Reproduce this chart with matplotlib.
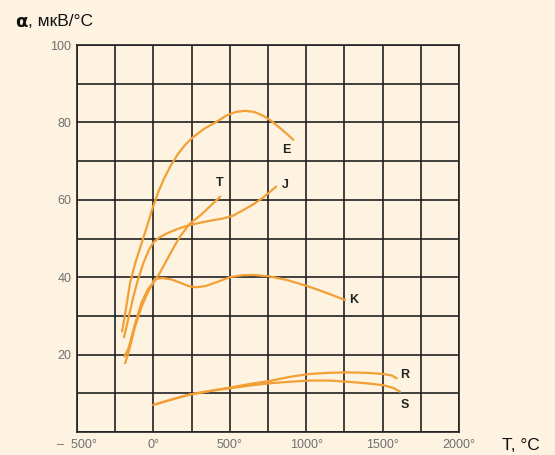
import matplotlib
matplotlib.use("Agg")
import matplotlib.pyplot as plt

# ---- data ----
E_T = [-205, -185, -153, -120, -100, -67, -35, 0, 35, 70, 110, 160, 210, 260, 330, 414, 480, 540, 600, 660, 720, 774, 830, 880, 916]
E_a = [26, 30.5, 38.5, 43.5, 46, 50, 54, 58.5, 62.3, 65.5, 68.6, 71.8, 74.3, 76.2, 78.3, 80.2, 81.8, 82.7, 83, 82.7, 81.7, 80.3, 78.5, 76.8, 75.5]

J_T = [-192, -160, -131, -100, -66, -30, 0, 40, 87, 160, 240, 320, 400, 460, 521, 600, 660, 719, 803]
J_a = [24.5, 30, 35, 39.5, 43.6, 47, 49, 50.3, 51.3, 52.5, 53.5, 54.2, 54.8, 55.2, 55.9, 57.6, 59, 60.6, 63.4]

T_T = [-190, -164, -120, -77, -35, 0, 40, 87, 130, 174, 240, 305, 370, 437]
T_a = [19.5, 21.5, 28, 33.5, 37, 38.5, 41, 44.4, 47.5, 50.5, 53.9, 55.9, 58.3, 60.8]

K_T = [-185, -164, -120, -77, -40, -10, 0, 20, 60, 120, 180, 230, 283, 340, 420, 500, 580, 654, 760, 872, 1000, 1130, 1254]
K_a = [17.8, 20.3, 27.2, 32.4, 35.8, 38, 39, 39.6, 39.8, 39.4, 38.5, 37.7, 37.4, 37.7, 38.8, 40.0, 40.5, 40.6, 40.2, 39.3, 37.8, 36, 34.1]

R_T = [0, 120, 240, 370, 501, 630, 763, 900, 1025, 1150, 1265, 1390, 1505, 1560, 1592]
R_a = [7, 8.4, 9.7, 10.6, 11.5, 12.4, 13.2, 14.3, 15, 15.3, 15.4, 15.3, 15, 14.6, 13.9]

S_T = [0, 120, 240, 370, 501, 630, 763, 900, 1025, 1150, 1265, 1390, 1505, 1570, 1614]
S_a = [7, 8.4, 9.7, 10.6, 11.3, 12.0, 12.6, 13.0, 13.3, 13.3, 13.0, 12.6, 12.1, 11.4, 10.4]

labels = ["E", "T", "J", "K", "R", "S"]
label_T = [872, 436, 861, 1308, 1647, 1647]
label_a = [72.9, 64.3, 63.8, 34.1, 14.7, 7.0]

xtick_vals = [-500, 0, 500, 1000, 1500, 2000]
xtick_text = ["\u2013  500\u00b0", "0\u00b0", "500\u00b0", "1000\u00b0", "1500\u00b0", "2000\u00b0"]
ytick_vals = [20, 40, 60, 80, 100]
ytick_text = ["20", "40", "60", "80", "100"]

# ---- style ----
BG = "#fdf3e0"
LINE = "#f2a036"
GRID = "#222222"

fig = plt.figure(figsize=(5.55, 4.55), dpi=100, facecolor=BG)
ax = fig.add_axes([77/555, 23/455, 382/555, 387/455])
ax.set_facecolor(BG)

for xs, ys in [(E_T, E_a), (J_T, J_a), (T_T, T_a), (K_T, K_a), (R_T, R_a), (S_T, S_a)]:
    ax.plot(xs, ys, color=LINE, lw=1.6, solid_capstyle="round",
            solid_joinstyle="round", zorder=3)

for lab, x, y in zip(labels, label_T, label_a):
    ax.text(x, y, lab, fontsize=9, fontweight="bold", color="#222222",
            ha="center", va="center", family="Liberation Sans", zorder=4)

ax.set_xlim(-500, 2000)
ax.set_ylim(0, 100)
ax.set_xticks(xtick_vals)
ax.set_xticklabels(xtick_text)
ax.set_xticks(range(-500, 2001, 250), minor=True)
ax.set_yticks(ytick_vals)
ax.set_yticklabels(ytick_text)
ax.set_yticks(range(0, 101, 10), minor=True)
ax.grid(True, which="both", color=GRID, lw=1.2, zorder=1)
ax.tick_params(which="both", length=0)
ax.tick_params(axis="x", pad=5, labelsize=9, labelcolor="#707070")
ax.tick_params(axis="y", pad=4, labelsize=9, labelcolor="#707070")
for lab in ax.get_xticklabels() + ax.get_yticklabels():
    lab.set_family("Liberation Sans")
for s in ax.spines.values():
    s.set_color(GRID)
    s.set_linewidth(1.2)

fig.text(15/555, 1 - 22/455, "\u03b1", fontsize=13, fontweight="bold",
         family="DejaVu Sans", va="center", ha="left", color="#111111")
fig.text(28/555, 1 - 22/455, ", \u043c\u043a\u0412/\u00b0C", fontsize=12.5,
         family="Liberation Sans", va="center", ha="left", color="#111111")
fig.text(502/555, 1 - 446/455, "T, \u00b0C", fontsize=12.5,
         family="Liberation Sans", va="center", ha="left", color="#111111")

fig.savefig("out.png", dpi=100, facecolor=BG)
